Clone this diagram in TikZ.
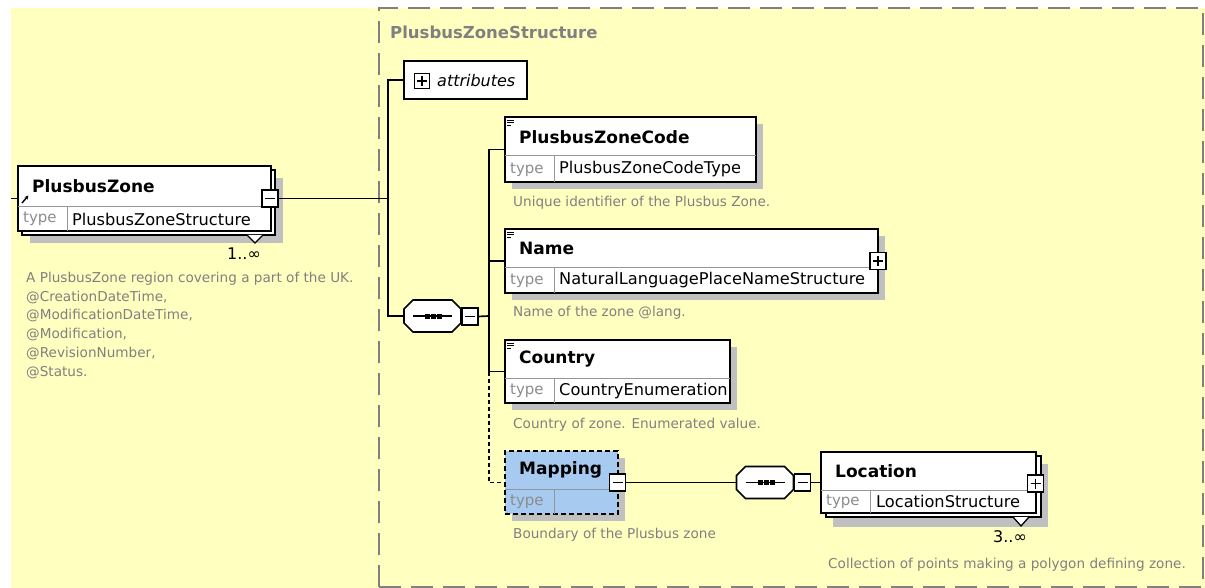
\documentclass[tikz,border=0pt]{standalone}
\usepackage{fontspec}
\setmainfont{DejaVu Sans}
\usetikzlibrary{calc,arrows.meta}
\definecolor{bgyellow}{RGB}{255,255,192}
\definecolor{shadowgray}{RGB}{192,192,192}
\definecolor{mapblue}{RGB}{166,202,240}
\definecolor{desctext}{RGB}{128,128,128}
\definecolor{divgray}{RGB}{150,150,150}
\definecolor{dashgray}{RGB}{128,128,128}
\definecolor{typegray}{RGB}{140,140,140}
\tikzset{
  elem/.style={draw=black, line width=1.7pt, fill=white, inner sep=0pt, outer sep=0pt, anchor=north west, rectangle},
  shade/.style={fill=shadowgray, draw=none},
  divline/.style={draw=divgray, line width=1pt},
  conn/.style={draw=black, line width=1.7pt},
  namefont/.style={font=\fontsize{17}{20}\selectfont\bfseries, anchor=west, inner sep=0pt},
  typelabel/.style={font=\fontsize{15}{18}\selectfont, text=typegray, anchor=west, inner sep=0pt},
  typeval/.style={font=\fontsize{16.2}{19}\selectfont, anchor=west, inner sep=0pt},
  descr/.style={font=\fontsize{13.6}{18.7}\selectfont, text=desctext, anchor=west, inner sep=0pt},
  mult/.style={font=\fontsize{16}{19}\selectfont, inner sep=0pt},
  btn/.style={draw=black, fill=white, line width=1.5pt, minimum width=16pt, minimum height=17pt, inner sep=0pt, outer sep=0pt},
  minusbtn/.style={btn, path picture={\draw[line width=1.4pt] ([xshift=-5pt]path picture bounding box.center) -- ([xshift=5pt]path picture bounding box.center);}},
  plusbtn/.style={btn, path picture={\draw[line width=1.4pt] ([xshift=-5pt]path picture bounding box.center) -- ([xshift=5pt]path picture bounding box.center); \draw[line width=1.4pt] ([yshift=-5pt]path picture bounding box.center) -- ([yshift=5pt]path picture bounding box.center);}},
  seqbox/.style={rectangle, draw=none, minimum width=57pt, minimum height=32pt, inner sep=0pt, outer sep=0pt},
  octo/.style={draw=black, fill=white, line width=1.7pt},
  docicon/.style={draw=black, line width=0.9pt}
}
\newcommand{\octagonof}[2]{%
  \path[#2] ([xshift=9pt]#1.north west) -- ([xshift=-9pt]#1.north east) -- ([yshift=-9pt]#1.north east) -- ([yshift=9pt]#1.south east) -- ([xshift=-9pt]#1.south east) -- ([xshift=9pt]#1.south west) -- ([yshift=9pt]#1.south west) -- ([yshift=-9pt]#1.north west) -- cycle;}
\begin{document}
\begin{tikzpicture}[x=1pt,y=-1pt]
\useasboundingbox (0,0) rectangle (1205,588);
\fill[bgyellow] (11,8) rectangle (1205,588);
\draw[dashgray, line width=1.4pt, dash pattern=on 22pt off 10pt] (379,587) -- (379,8) -- (1203,8) -- (1203,587) -- cycle;
\node[font=\fontsize{16.5}{19}\selectfont\bfseries, text=desctext, anchor=west, inner sep=0pt] (stitle) at (390,32) {PlusbusZoneStructure};

% ---------- shadows ----------
\fill[shade] (30,178) rectangle (283,243);
\fill[shade] (512,124) rectangle (763,189);
\fill[shade] (512,236) rectangle (885,300);
\fill[shade] (512,347) rectangle (737,410);
\fill[shade] (512,458) rectangle (625,521);
\fill[shade] (833,464) rectangle (1048,527);

% ---------- PlusbusZone ----------
\draw[line width=1.7pt, fill=white] (22,170) rectangle (275,235);
\draw[line width=1.3pt, fill=white] (247,235) -- (255,243) -- (263,235);
\node[elem, minimum width=253pt, minimum height=65pt] (pz) at (18,166) {};
\draw[divline] (18,207) -- (271,207);
\draw[divline] (67,207) -- (67,231);
\node[namefont] (pzname) at (32,186) {PlusbusZone};
\draw[line width=1.4pt, -{Stealth[length=4pt,width=4pt]}] (22,203) -- (28.5,195.5);
\node[typelabel] (pztype) at (23,219) {type};
\node[typeval] (pzval) at (72,219) {PlusbusZoneStructure};
\node[minusbtn] (pzminus) at (270,198.5) {};
\node[mult] (pzmult) at (244,254) {1..∞};
\node[descr, anchor=north west, align=left] (pzdesc) at (26,272) {A PlusbusZone region covering a part of the UK.\\@CreationDateTime,\\@ModificationDateTime,\\@Modification,\\@RevisionNumber,\\@Status.};

% ---------- attributes ----------
\node[elem, minimum width=123pt, minimum height=38pt] (attr) at (404,61) {};
\draw[line width=1.2pt] (414.5,73.5) rectangle (429.5,88.5);
\draw[line width=1.2pt] (417,81) -- (427,81) (422,76) -- (422,86);
\node[font=\fontsize{16}{19}\selectfont\itshape, anchor=west, inner sep=0pt] (attrtext) at (437,81) {attributes};

% ---------- sequence 1 ----------
\node[seqbox] (seq1) at (432.5,316) {};
\begin{scope}[shift={(7,8)}]\octagonof{seq1}{fill=shadowgray}\end{scope}
\octagonof{seq1}{octo}
\draw[line width=1.4pt] (413,316) -- (452,316);
\fill (425,313.5) rectangle (430,318.5);
\fill (431,313.5) rectangle (436,318.5);
\fill (437,313.5) rectangle (442,318.5);
\node[minusbtn] (seq1minus) at (470,316.5) {};

% ---------- PlusbusZoneCode ----------
\node[elem, minimum width=251pt, minimum height=65pt] (code) at (505,117) {};
\draw[divline] (505,156) -- (756,156);
\draw[divline] (554,156) -- (554,182);
\draw[docicon] (507,120) -- (514,120) (507,122.5) -- (514,122.5) (507,125) -- (511,125);
\node[namefont] (codename) at (519,137) {PlusbusZoneCode};
\node[typelabel] (codetype) at (510,169.5) {type};
\node[typeval] (codeval) at (559,169.5) {PlusbusZoneCodeType};
\node[descr] (codedesc) at (513,203) {Unique identifier of the Plusbus Zone.};

% ---------- Name ----------
\node[elem, minimum width=373pt, minimum height=64pt] (name) at (505,229) {};
\draw[divline] (505,267) -- (878,267);
\draw[divline] (554,267) -- (554,293);
\draw[docicon] (507,232) -- (514,232) (507,234.5) -- (514,234.5) (507,237) -- (511,237);
\node[namefont] (namename) at (519,248) {Name};
\node[typelabel] (nametype) at (510,280.5) {type};
\node[typeval] (nameval) at (559,280.5) {NaturalLanguagePlaceNameStructure};
\node[plusbtn] (nameplus) at (878,261) {};
\node[descr] (namedesc) at (513,313) {Name of the zone @lang.};

% ---------- Country ----------
\node[elem, minimum width=225pt, minimum height=63pt] (country) at (505,340) {};
\draw[divline] (505,378) -- (730,378);
\draw[divline] (554,378) -- (554,403);
\draw[docicon] (507,343) -- (514,343) (507,345.5) -- (514,345.5) (507,348) -- (511,348);
\node[namefont] (countryname) at (519,359) {Country};
\node[typelabel] (countrytype) at (510,391) {type};
\node[typeval] (countryval) at (559,391) {CountryEnumeration};
\node[descr] (countrydesc) at (513,425) {Country of zone. Enumerated value.};

% ---------- Mapping ----------
\node[elem, fill=mapblue, dash pattern=on 5pt off 3pt, minimum width=113pt, minimum height=63pt] (mapping) at (505,451) {};
\draw[divline] (505,489) -- (618,489);
\draw[divline] (554,489) -- (554,514);
\node[namefont] (mapname) at (519,470) {Mapping};
\node[typelabel] (maptype) at (510,502) {type};
\node[minusbtn] (mapminus) at (617.5,482.5) {};
\node[descr] (mapdesc) at (513,535) {Boundary of the Plusbus zone};

% ---------- sequence 2 ----------
\node[seqbox] (seq2) at (765,482.5) {};
\begin{scope}[shift={(7,8)}]\octagonof{seq2}{fill=shadowgray}\end{scope}
\octagonof{seq2}{octo}
\draw[line width=1.4pt] (745.5,482.5) -- (784.5,482.5);
\fill (757.5,480) rectangle (762.5,485);
\fill (763.5,480) rectangle (768.5,485);
\fill (769.5,480) rectangle (774.5,485);
\node[minusbtn] (seq2minus) at (802.5,482.5) {};

% ---------- Location ----------
\draw[line width=1.7pt, fill=white] (826,456) rectangle (1041,517);
\draw[line width=1.3pt, fill=white] (1013,517) -- (1021,526) -- (1029,517);
\node[elem, minimum width=215pt, minimum height=61pt] (loc) at (821,452) {};
\draw[divline] (821,490) -- (1036,490);
\draw[divline] (870,490) -- (870,513);
\node[namefont] (locname) at (835,471) {Location};
\node[typelabel] (loctype) at (826,501.5) {type};
\node[typeval] (locval) at (876,501.5) {LocationStructure};
\node[plusbtn] (locplus) at (1035.5,483.5) {};
\node[mult] (locmult) at (1010,537) {3..∞};
\node[descr] (locdesc) at (828,565) {Collection of points making a polygon defining zone.};

% ---------- connectors ----------
\coordinate (lstub) at (11,198.5);
\coordinate (bus1) at (388,198.5);
\coordinate (bus2) at (489,316);
\draw[conn] (lstub) -- (pz.west);
\draw[conn] (pzminus.east) -- (bus1);
\draw[conn] (attr.west) -| (bus1);
\draw[conn] (bus1) |- (seq1.west);
\draw[conn] (seq1minus.east) -- (bus2);
\draw[conn] (code.west) -| (bus2);
\draw[conn] (name.west) -- (name.west -| bus2);
\draw[conn] (country.west) -| (bus2);
\draw[conn, dash pattern=on 4pt off 3pt] (country.west -| bus2) |- (mapping.west);
\draw[conn] (mapminus.east) -- (seq2.west);
\draw[conn] (seq2minus.east) -- (loc.west);
\end{tikzpicture}
\end{document}
